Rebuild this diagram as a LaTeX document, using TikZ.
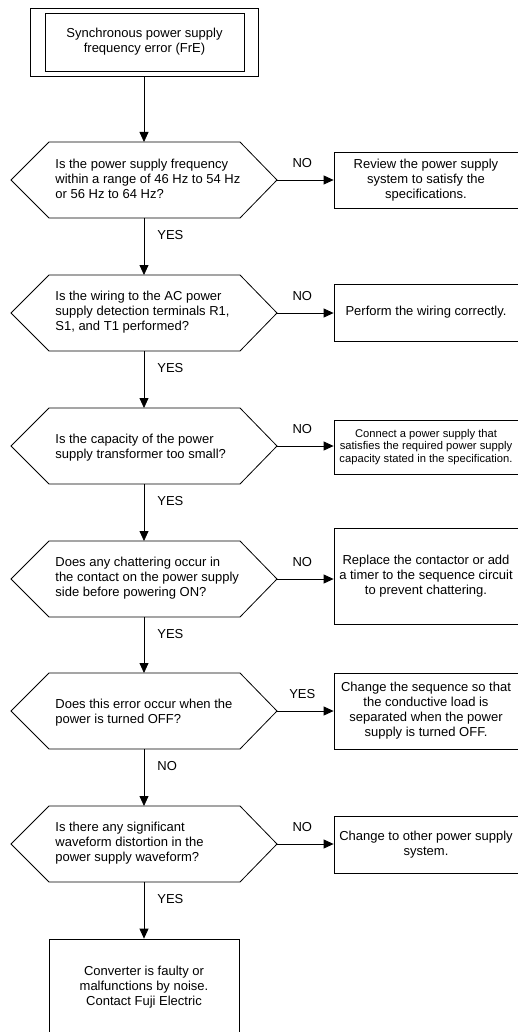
\documentclass[tikz,border=0pt]{standalone}
\usepackage{fontspec}
\setmainfont{Liberation Sans}
\usetikzlibrary{arrows.meta}

% Hexagonal decision outline with named attachment points:
% #1 = name prefix, #2 = vertical centre
\newcommand\hexq[2]{%
  \draw (11,#2) -- (49,#2-38) -- (240,#2-38) -- (277,#2)
        -- (240,#2+38) -- (49,#2+38) -- cycle;
  \coordinate (#1n) at (144,#2-38);
  \coordinate (#1s) at (144,#2+38);
  \coordinate (#1e) at (277,#2);
}

\begin{document}
\begin{tikzpicture}[x=1pt,y=-1pt,
  line width=0.8pt,
  every node/.style={font=\fontsize{13}{15}\selectfont, inner sep=0pt},
  box/.style={draw, minimum width=184pt, align=center},
  qtext/.style={align=left, anchor=west},
  small/.style={font=\fontsize{11.2}{12.4}\selectfont},
  flow/.style={-{Triangle[length=10pt,width=9pt]}},
  lbl/.style={anchor=west}]
\useasboundingbox (0,0) rectangle (518,1032);
\clip (0,0) rectangle (518,1032);

% start terminal (double frame)
\node[draw, minimum width=228pt, minimum height=68pt] (start) at (144,42) {};
\node[draw, minimum width=199pt, minimum height=58pt, align=center] (startin) at (144.5,42)
  {Synchronous power supply\\frequency error (FrE)};

% decisions
\hexq{q1}{180}
\node[qtext] (t1) at (55,179) {Is the power supply frequency\\within a range of 46 Hz to 54 Hz\\or 56 Hz to 64 Hz?};
\hexq{q2}{313}
\node[qtext] (t2) at (55,312) {Is the wiring to the AC power\\supply detection terminals R1,\\S1, and T1 performed?};
\hexq{q3}{446}
\node[qtext] (t3) at (55,448) {Is the capacity of the power\\supply transformer too small?};
\hexq{q4}{579}
\node[qtext] (t4) at (55,578) {Does any chattering occur in\\the contact on the power supply\\side before powering ON?};
\hexq{q5}{711}
\node[qtext] (t5) at (55,713) {Does this error occur when the\\power is turned OFF?};
\hexq{q6}{844}
\node[qtext] (t6) at (55,843) {Is there any significant\\waveform distortion in the\\power supply waveform?};

% remedies
\node[box, minimum height=56pt] (r1) at (426,180) {Review the power supply\\system to satisfy the\\specifications.};
\node[box, minimum height=57pt] (r2) at (426,312.5) {Perform the wiring correctly.};
\node[box, minimum height=54pt, small] (r3) at (426,447) {Connect a power supply that\\satisfies the required power supply\\capacity stated in the specification.};
\node[box, minimum height=96pt] (r4) at (426,576) {Replace the contactor or add\\a timer to the sequence circuit\\to prevent chattering.};
\node[box, minimum height=76pt] (r5) at (426,711) {Change the sequence so that\\the conductive load is\\separated when the power\\supply is turned OFF.};
\node[box, minimum height=57pt] (r6) at (426,844.5) {Change to other power supply\\system.};

% final result
\node[draw, minimum width=190pt, minimum height=96pt, align=center] (fin) at (144,987)
  {Converter is faulty or\\malfunctions by noise.\\Contact Fuji Electric};

% main line
\draw[flow] (start.south) -- (q1n);
\draw[flow] (q1s) -- node[lbl, pos=0.3, xshift=13pt] {YES} (q2n);
\draw[flow] (q2s) -- node[lbl, pos=0.3, xshift=13pt] {YES} (q3n);
\draw[flow] (q3s) -- node[lbl, pos=0.3, xshift=13pt] {YES} (q4n);
\draw[flow] (q4s) -- node[lbl, pos=0.3, xshift=13pt] {YES} (q5n);
\draw[flow] (q5s) -- node[lbl, pos=0.3, xshift=13pt] {NO} (q6n);
\draw[flow] (q6s) -- node[lbl, pos=0.3, xshift=13pt] {YES} (fin.north);

% side branches
\draw[flow] (q1e) -- node[yshift=17pt, xshift=-3pt] {NO} (q1e -| r1.west);
\draw[flow] (q2e) -- node[yshift=17pt, xshift=-3pt] {NO} (q2e -| r2.west);
\draw[flow] (q3e) -- node[yshift=17pt, xshift=-3pt] {NO} (q3e -| r3.west);
\draw[flow] (q4e) -- node[yshift=17pt, xshift=-3pt] {NO} (q4e -| r4.west);
\draw[flow] (q5e) -- node[yshift=17pt, xshift=-3pt] {YES} (q5e -| r5.west);
\draw[flow] (q6e) -- node[yshift=17pt, xshift=-3pt] {NO} (q6e -| r6.west);
\end{tikzpicture}
\end{document}
